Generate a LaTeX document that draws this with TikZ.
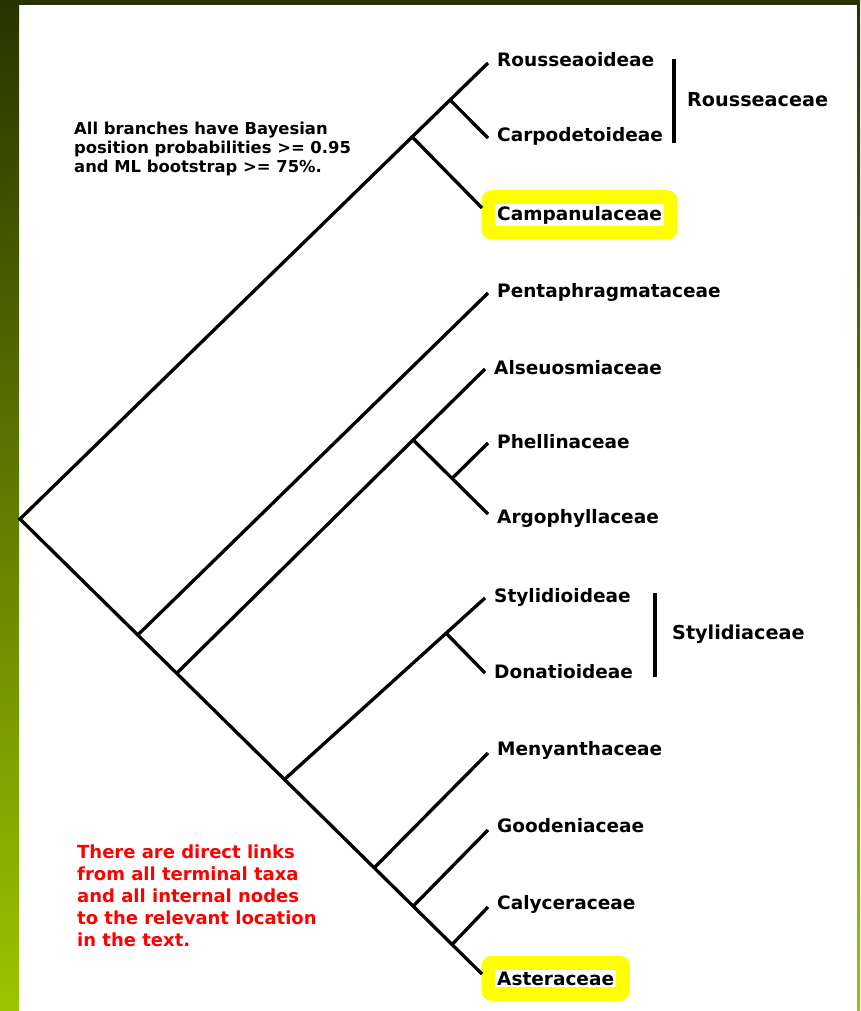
\documentclass[tikz,border=0pt]{standalone}
\usepackage{fontspec}
\setmainfont{DejaVu Sans}
\usetikzlibrary{calc,fit,backgrounds}
\definecolor{dkolive}{HTML}{283400}
\definecolor{limegr}{HTML}{9AC500}
\definecolor{hiyellow}{HTML}{FFFF00}
\definecolor{notered}{HTML}{FF0000}
\begin{document}
\begin{tikzpicture}[x=1pt,y=-1pt,
  branch/.style={line width=3.3pt, line join=miter},
  bracket/.style={line width=3.3pt},
  leaf/.style={font=\fontsize{18.5}{22}\selectfont\bfseries, anchor=base west, inner sep=2pt},
  famlabel/.style={font=\fontsize{19.2}{22}\selectfont\bfseries, anchor=base west, inner sep=0pt},
  hilite/.style={fill=white},
  hibox/.style={fill=hiyellow, rounded corners=10pt, inner sep=13.5pt},
  note/.style={font=\fontsize{16.4}{19}\selectfont\bfseries, anchor=base west, align=left, inner sep=0pt},
  rednote/.style={font=\fontsize{18}{22}\selectfont\bfseries, anchor=base west, align=left, inner sep=0pt, text=notered}]
\useasboundingbox (0,0) rectangle (860,1011);
\begin{pgfonlayer}{background}
  \fill[white] (0,0) rectangle (860,1011);
  \shade[top color=dkolive, bottom color=limegr] (0,0) rectangle (19,1011);
  \shade[top color=dkolive, bottom color=limegr] (857,0) rectangle (860,1011);
  \fill[dkolive] (0,0) rectangle (860,5);
\end{pgfonlayer}

% tips
\coordinate (root) at (20,519);
\coordinate (tRou) at (488,63);
\coordinate (tCar) at (488,138);
\coordinate (tCam) at (482,208);
\coordinate (tPen) at (488,293);
\coordinate (tAls) at (485,369);
\coordinate (tPhe) at (488,443);
\coordinate (tArg) at (488,514);
\coordinate (tSty) at (485,598);
\coordinate (tDon) at (485,673);
\coordinate (tMen) at (488,753);
\coordinate (tGoo) at (488,830);
\coordinate (tCal) at (488,907);
\coordinate (tAst) at (482,974);
% internal nodes
\coordinate (n1) at ($(root)!0.838!(tRou)$);
\coordinate (nR) at ($(root)!0.919!(tRou)$);
\coordinate (n2) at ($(root)!0.2549!(tAst)$);
\coordinate (n3) at ($(root)!0.3391!(tAst)$);
\coordinate (n6) at ($(root)!0.5724!(tAst)$);
\coordinate (n7) at ($(root)!0.7667!(tAst)$);
\coordinate (n8) at ($(root)!0.851!(tAst)$);
\coordinate (n9) at ($(root)!0.9352!(tAst)$);
\coordinate (n4) at ($(n3)!0.767!(tAls)$);
\coordinate (n5) at ($(n4)!0.52!(tArg)$);
\coordinate (nS) at ($(n6)!0.806!(tSty)$);

% branches
\draw[branch] (tRou) -- (nR) -- (n1) -- (root) -- (n2) -- (n3) -- (n6) -- (n7) -- (n8) -- (n9) -- (tAst);
\draw[branch] (nR) -- (tCar);
\draw[branch] (n1) -- (tCam);
\draw[branch] (n2) -- (tPen);
\draw[branch] (n3) -- (n4) -- (tAls);
\draw[branch] (n4) -- (n5) -- (tArg);
\draw[branch] (n5) -- (tPhe);
\draw[branch] (n6) -- (nS) -- (tSty);
\draw[branch] (nS) -- (tDon);
\draw[branch] (n7) -- (tMen);
\draw[branch] (n8) -- (tGoo);
\draw[branch] (n9) -- (tCal);

% leaf labels
\node[leaf] (lRou) at (495,67) {Rousseaoideae};
\node[leaf] (lCar) at (495,142) {Carpodetoideae};
\node[leaf, hilite] (lCam) at (495,220) {Campanulaceae};
\node[leaf] (lPen) at (495,297) {Pentaphragmataceae};
\node[leaf] (lAls) at (492,374) {Alseuosmiaceae};
\node[leaf] (lPhe) at (495,448) {Phellinaceae};
\node[leaf] (lArg) at (495,523) {Argophyllaceae};
\node[leaf] (lSty) at (492,602) {Stylidioideae};
\node[leaf] (lDon) at (492,678) {Donatioideae};
\node[leaf] (lMen) at (495,755) {Menyanthaceae};
\node[leaf] (lGoo) at (495,832) {Goodeniaceae};
\node[leaf] (lCal) at (495,909) {Calyceraceae};
\node[leaf, hilite] (lAst) at (495,985) {Asteraceae};

\begin{pgfonlayer}{background}
  \node[hibox, fit=(lCam)] (boxCam) {};
  \node[hibox, fit=(lAst)] (boxAst) {};
\end{pgfonlayer}

% family brackets
\coordinate (bRa) at (674,59);
\coordinate (bRb) at (674,143);
\draw[bracket] (bRa) -- (bRb);
\node[famlabel] (fRou) at (687,107) {Rousseaceae};
\coordinate (bSa) at (655,593);
\coordinate (bSb) at (655,677);
\draw[bracket] (bSa) -- (bSb);
\node[famlabel] (fSty) at (672,639) {Stylidiaceae};

% notes (base anchor = last line's baseline)
\node[note] (noteBayes) at (74,172) {All branches have Bayesian\\position probabilities >= 0.95\\and ML bootstrap >= 75\%.};
\node[rednote] (noteLinks) at (77,946) {There are direct links\\from all terminal taxa\\and all internal nodes\\to the relevant location\\in the text.};
\end{tikzpicture}
\end{document}
